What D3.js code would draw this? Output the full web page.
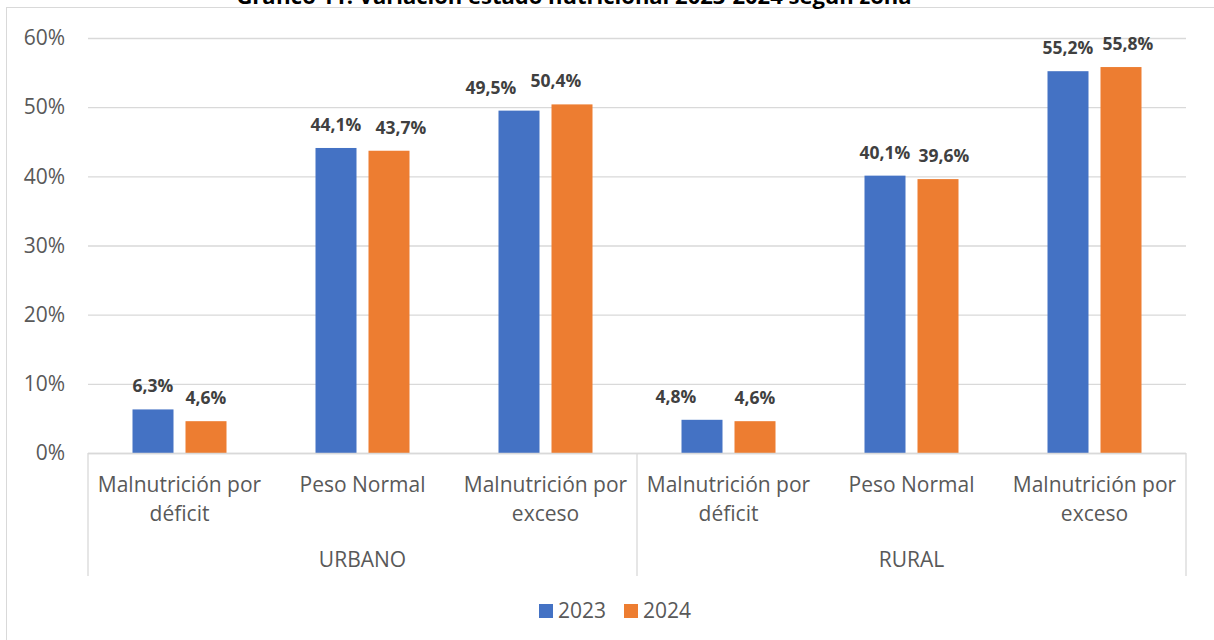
<!DOCTYPE html>
<html><head><meta charset="utf-8">
<script src="https://cdn.jsdelivr.net/npm/d3@7"></script>
<style>body{margin:0;background:#fff}svg{display:block}</style>
</head><body>
<script>
const groups = ["URBANO", "RURAL"];
const categories = ["Malnutrición por déficit", "Peso Normal", "Malnutrición por exceso"];
const categoryLines = [["Malnutrición por", "déficit"], ["Peso Normal"], ["Malnutrición por", "exceso"]];
const seriesNames = ["2023", "2024"];
const values2023 = [0.063, 0.441, 0.495, 0.048, 0.401, 0.552];
const values2024 = [0.046, 0.437, 0.504, 0.046, 0.396, 0.558];
const yTicks = [0, 0.1, 0.2, 0.3, 0.4, 0.5, 0.6];
const colors = ["#4472C4", "#ED7D31"];
const title = "Gráfico 11. Variación estado nutricional 2023-2024 según zona";

(function () {
const W = 1214, H = 640;
const font = "Open Sans, sans-serif";
// manual horizontal nudges of data labels (as dragged in the source)
const labelNudge = [[0, 0, -28, -26, 0, 0], [0, 12, -16, 0, 6, 7]];
const svg = d3.select("body").append("svg").attr("width", W).attr("height", H);

// frame
svg.append("rect").attr("x", 6.5).attr("y", 7.5).attr("width", 1240).attr("height", 700)
  .attr("fill", "none").attr("stroke", "#d9d9d9").attr("stroke-width", 1);

// title (cut off at top, as in the source)
svg.append("text").attr("x", 574).attr("y", 4).attr("text-anchor", "middle")
  .attr("font-family", font).attr("font-weight", "bold").attr("font-size", 22).attr("fill", "#000")
  .text(title);

const pLeft = 88, pRight = 1186, pTop = 38, pBottom = 453;
const slots = d3.range(groups.length * categories.length);
const x = d3.scaleBand().domain(slots).range([pLeft, pRight]).paddingInner(0).paddingOuter(0);
const y = d3.scaleLinear().domain([0, 0.6]).range([pBottom, pTop]);
const barW = 41, gap = 12;
const xs = d3.scaleOrdinal().domain(seriesNames).range([-(gap / 2) - barW, gap / 2]);

// gridlines
const yAxis = d3.axisLeft(y).tickValues(yTicks).tickSize(-(pRight - pLeft))
  .tickFormat(d => Math.round(d * 100) + "%");
const gy = svg.append("g").attr("transform", `translate(${pLeft},0)`).call(yAxis);
gy.select(".domain").remove();
gy.selectAll(".tick line").attr("stroke", "#d9d9d9").attr("stroke-width", 1.3);
gy.selectAll(".tick text").attr("x", -23).attr("font-family", font).attr("font-size", 21)
  .attr("fill", "#595959");

// bars
const series = [values2023, values2024];
series.forEach((vals, si) => {
  const g = svg.append("g");
  g.selectAll("rect").data(vals).join("rect")
    .attr("x", (d, i) => x(i) + x.bandwidth() / 2 + xs(seriesNames[si]))
    .attr("y", d => y(d)).attr("width", barW).attr("height", d => y(0) - y(d))
    .attr("fill", colors[si]);
  g.selectAll("text").data(vals).join("text")
    .attr("x", (d, i) => x(i) + x.bandwidth() / 2 + xs(seriesNames[si]) + barW / 2 + labelNudge[si][i])
    .attr("y", d => y(d) - 17).attr("text-anchor", "middle")
    .attr("font-family", font).attr("font-weight", "bold").attr("font-size", 17.5).attr("fill", "#404040")
    .text(d => (d * 100).toFixed(1).replace(".", ",") + "%");
});

// category axis
const ax = svg.append("g");
ax.append("line").attr("x1", pLeft).attr("x2", pRight).attr("y1", pBottom + 0.5).attr("y2", pBottom + 0.5)
  .attr("stroke", "#d9d9d9").attr("stroke-width", 1.3);
const groupW = x.bandwidth() * categories.length;
d3.range(groups.length + 1).forEach(i => {
  const xx = pLeft + i * groupW;
  ax.append("line").attr("x1", xx).attr("x2", xx).attr("y1", pBottom).attr("y2", 576)
    .attr("stroke", "#d9d9d9").attr("stroke-width", 1.3);
});
slots.forEach(i => {
  const lines = categoryLines[i % categories.length];
  const t = ax.append("text").attr("text-anchor", "middle").attr("font-family", font)
    .attr("font-size", 21).attr("fill", "#595959");
  lines.forEach((l, k) => {
    t.append("tspan").attr("x", x(i) + x.bandwidth() / 2).attr("y", 492 + k * 29).text(l);
  });
});
groups.forEach((g, i) => {
  ax.append("text").attr("x", pLeft + groupW * (i + 0.5)).attr("y", 567).attr("text-anchor", "middle")
    .attr("font-family", font).attr("font-size", 21).attr("fill", "#595959").text(g);
});

// legend
const leg = svg.append("g");
const legX = [539, 624];
seriesNames.forEach((s, i) => {
  leg.append("rect").attr("x", legX[i]).attr("y", 604).attr("width", 14).attr("height", 14).attr("fill", colors[i]);
  leg.append("text").attr("x", legX[i] + 19).attr("y", 618).attr("font-family", font).attr("font-size", 21)
    .attr("fill", "#595959").text(s);
});
})();
</script>
</body></html>
